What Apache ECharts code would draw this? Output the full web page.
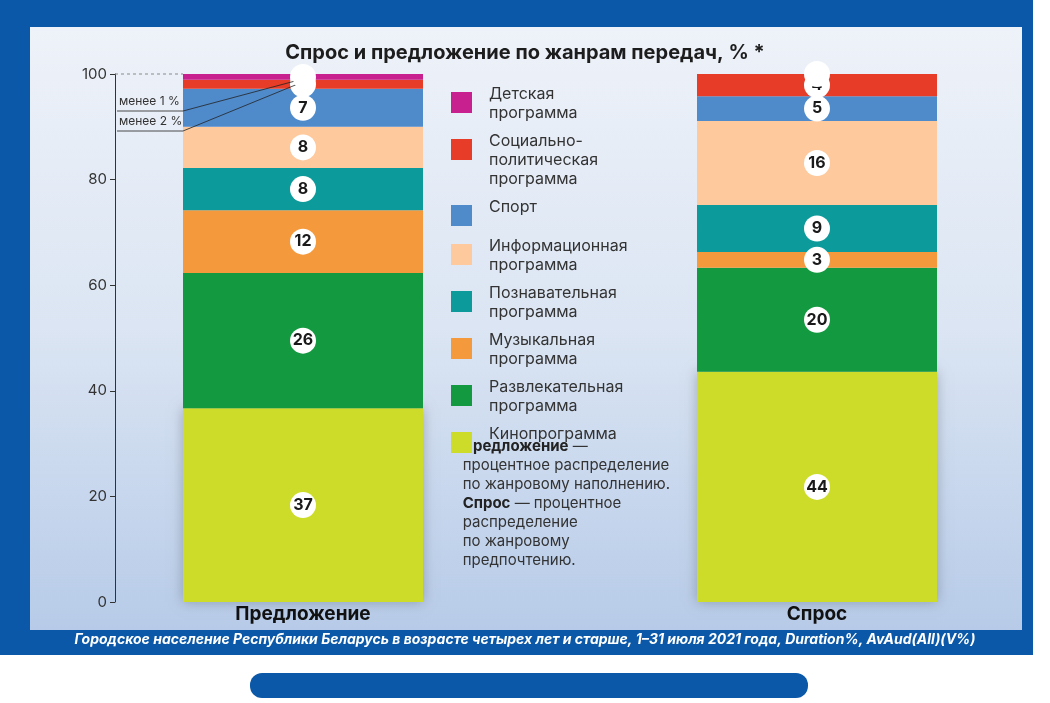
<!DOCTYPE html><html><head><meta charset="utf-8">
<script src="https://cdn.jsdelivr.net/npm/echarts@6/dist/echarts.min.js"></script>
<style>html,body{margin:0;padding:0;background:#fff}#c{width:1050px;height:703px}</style></head><body><div id="c"></div>
<script>
const categories = ['Предложение', '', 'Спрос'];
const seriesNames = ['Кинопрограмма','Развлекательная программа','Музыкальная программа','Познавательная программа','Информационная программа','Спорт','Социально-политическая программа','Детская программа'];
const legendLabels = ['Кинопрограмма','Развлекательная\nпрограмма','Музыкальная\nпрограмма','Познавательная\nпрограмма','Информационная\nпрограмма','Спорт','Социально-\nполитическая\nпрограмма','Детская\nпрограмма'];
const supplyValues = [36.7, 25.6, 11.9, 8.0, 7.8, 7.2, 1.7, 1.1];
const demandValues = [43.6, 19.7, 3.0, 8.9, 15.9, 4.7, 4.2, 0];
const yTicks = [0, 20, 40, 60, 80, 100];
const colors = ['#cddc29','#13993f','#f59a3c','#0d9a9a','#fdc99d','#4f8acb','#e63c28','#c8218f'];

const chart = echarts.init(document.getElementById('c'));
const series = seriesNames.map((n,i)=>({
  name:n, type:'bar', stack:'s', barWidth:240,
  data:[supplyValues[i], null, demandValues[i]],
  itemStyle:{color:colors[i], shadowBlur:i===0?12:0, shadowColor:'rgba(0,0,0,0.25)', shadowOffsetY:0},
  label:{show:true, position:'inside', formatter:p=>p.value>=2.5?String(Math.round(p.value)):'',
    backgroundColor:'#fff', borderRadius:13, width:26, height:26, lineHeight:26, align:'center',
    color:'#1a1a1a', fontWeight:'bold', fontSize:16, fontFamily:'Inter'}
}));
const legendG = [];
let ly = 92;
for (let k = seriesNames.length-1; k>=0; k--){
  const lines = legendLabels[k].split('\n').length;
  legendG.push({type:'rect', left:451, top:ly, shape:{width:21,height:21}, style:{fill:colors[k]}, z:10});
  legendG.push({type:'text', left:489, top:ly-7, style:{text:legendLabels[k], fill:'#333', font:'16px Inter', lineHeight:19}, z:10});
  ly += lines*19 + (lines===1?20:9);
}
const bg = [
  {type:'rect', left:0, top:0, shape:{width:1033,height:655}, style:{fill:'#0b58a8'}, z:-10},
  {type:'rect', left:30, top:27, shape:{width:992,height:603}, style:{fill:new echarts.graphic.LinearGradient(0,0,0,1,[{offset:0,color:'#eef2f9'},{offset:0.5,color:'#dbe5f3'},{offset:1,color:'#b7cbe8'}])}, z:-9},
  {type:'rect', left:250, top:673, shape:{width:558,height:25,r:12}, style:{fill:'#0b58a8'}, z:-9},
  {type:'text', left:'center', top:633, style:{text:'Городское население Республики Беларусь в возрасте четырех лет и старше, 1–31 июля 2021 года, Duration%, AvAud(All)(V%)', fill:'#fff', font:'italic bold 14px Inter'}, z:10},
  {type:'text', left:450, top:437, style:{rich:{b:{font:'bold 15px Inter',fill:'#222'},n:{font:'15px Inter',fill:'#333'}}, text:'{n|* }{b|Предложение}{n| —}\n{n|   процентное распределение}\n{n|   по жанровому наполнению.}\n{n|   }{b|Спрос}{n| — процентное}\n{n|   распределение}\n{n|   по жанровому}\n{n|   предпочтению.}', lineHeight:19}, z:10}
];
chart.setOption({
  animation:false,
  title:{text:'Спрос и предложение по жанрам передач, % *', left:'center', top:38, textStyle:{fontFamily:'Inter', fontSize:20, fontWeight:'bold', color:'#1d1d1d'}},
  grid:{left:174.5, right:1050-945.5, top:74, bottom:101},
  xAxis:{type:'category', data:categories, axisTick:{show:false}, axisLine:{show:false},
    axisLabel:{color:'#111', fontFamily:'Inter', fontWeight:'bold', fontSize:19, margin:3}},
  yAxis:{type:'value', min:0, max:100, interval:20, offset:59.5,
    axisLine:{show:true, lineStyle:{color:'#333'}}, axisTick:{show:true, length:5, lineStyle:{color:'#333'}},
    splitLine:{show:false}, axisLabel:{color:'#333', fontFamily:'Inter', fontSize:15, formatter:v=>yTicks.includes(v)?String(v):''}},
  series,
  graphic: bg.concat(legendG)
});
const pTop = chart.convertToPixel({xAxisIndex:0,yAxisIndex:0},['Предложение',100]);
const pC = chart.convertToPixel({xAxisIndex:0,yAxisIndex:0},['Предложение',100-supplyValues[7]/2]);
const x0 = 115, barL = pTop[0]-120;
const ann = [
  {type:'line', shape:{x1:x0,y1:pTop[1],x2:barL,y2:pTop[1]}, style:{stroke:'#888',lineDash:[3,3],lineWidth:1}, z:20},
  {type:'polyline', shape:{points:[[117,111],[183,111],[pTop[0],pC[1]+2]]}, style:{stroke:'#222',lineWidth:0.8,fill:null}, z:20},
  {type:'polyline', shape:{points:[[117,131],[183,131],[pTop[0],pC[1]+5]]}, style:{stroke:'#222',lineWidth:0.8,fill:null}, z:20},
  {type:'text', left:119, top:95, style:{text:'менее 1 %', fill:'#333', font:'12px Inter'}, z:20},
  {type:'text', left:119, top:115, style:{text:'менее 2 %', fill:'#333', font:'12px Inter'}, z:20},
  {type:'circle', shape:{cx:pTop[0], cy:pC[1]+2, r:10}, style:{fill:'#fff'}, z:21}
];
chart.setOption({graphic: bg.concat(legendG).concat(ann)});
</script></body></html>
